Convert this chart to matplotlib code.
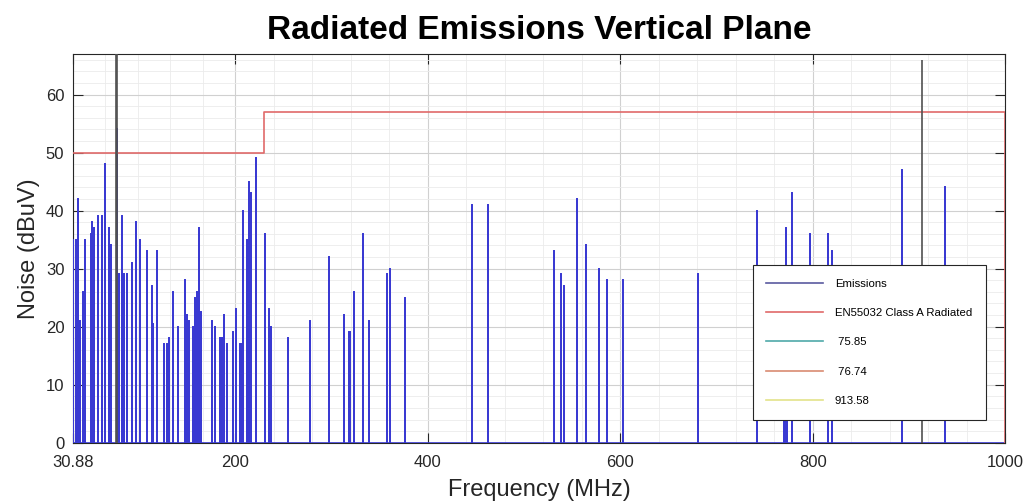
import numpy as np
import matplotlib
matplotlib.use('Agg')
import matplotlib.pyplot as plt
from matplotlib.lines import Line2D
from matplotlib.ticker import FixedLocator, MultipleLocator

plt.rcParams['font.family'] = ['Liberation Sans', 'DejaVu Sans']

# emission peaks (MHz, dBuV)
peak_freq = [31.5, 34.0, 36.1, 38.5, 41.3, 43.7, 49.6, 51.3, 53.0, 56.9,
             61.0, 64.4, 68.9, 70.7, 76.6, 79.0, 81.8, 84.2, 86.9, 92.8,
             96.6, 100.8, 107.8, 113.6, 114.5, 118.8, 125.7, 128.5, 131.0, 135.4,
             139.9, 147.6, 150.0, 152.0, 156.2, 158.0, 159.7, 162.1, 163.9, 175.3,
             178.7, 183.9, 185.7, 188.1, 191.5, 197.1, 200.5, 204.7, 206.0, 207.7,
             212.2, 214.4, 216.1, 221.3, 231.0, 235.2, 236.6, 254.9, 277.8, 297.2,
             313.1, 318.3, 319.5, 323.5, 332.8, 338.7, 357.1, 360.5, 376.1, 446.0,
             461.9, 530.8, 537.8, 541.3, 554.9, 563.9, 577.7, 585.7, 603.0, 680.9,
             742.1, 769.6, 771.9, 773.5, 778.2, 796.9, 815.6, 819.3, 892.2, 937.2]
peak_level = [35, 35, 42, 21, 26, 35, 36, 38, 37, 39,
              39, 48, 37, 34, 54, 29, 39, 29, 29, 31,
              38, 35, 33, 27, 20.5, 33, 17, 17, 18, 26,
              20, 28, 22, 21, 20, 25, 26, 37, 22.5, 21,
              20, 18, 18, 22, 17, 19, 23, 17, 17, 40,
              35, 45, 43, 49, 36, 23, 20, 18, 21, 32,
              22, 19, 19, 26, 36, 21, 29, 30, 25, 41,
              41, 33, 29, 27, 42, 34, 30, 28, 28, 29,
              40, 20, 37, 25, 43, 36, 36, 33, 47, 44]

# EN55032 class A radiated limit
limit_freq = [30.88, 230, 230, 1000, 1000]
limit_level = [50, 50, 57, 57, 0]

# marker lines
marker_freq = [75.85, 76.74, 913.58]
marker_top = [67, 67, 66]
marker_labels = [' 75.85', ' 76.74', '913.58']
marker_colors = ['#4fa9a9', '#d98b72', '#e3e38a']

xticks = [30.88, 200, 400, 600, 800, 1000]
xticklabels = ['30.88', '200', '400', '600', '800', '1000']

# spikes: 0 -> peak -> 0 at each frequency
f = np.asarray(peak_freq)
a = np.asarray(peak_level)
ex = np.concatenate([[30.88], np.repeat(f, 3), [1000]])
ey = np.concatenate([[0], np.column_stack([np.zeros_like(a), a, np.zeros_like(a)]).ravel(), [0]])

fig = plt.figure(figsize=(10.28, 5.04), dpi=100)
ax = fig.add_axes([0.0707, 0.1216, 0.9074, 0.7713])

ax.plot(ex, ey, color='#3a3ad2', lw=1.2, label='Emissions', zorder=3)
ax.plot(limit_freq, limit_level, color='#e06a6a', lw=1.2,
        label='EN55032 Class A Radiated', zorder=4)
ax.vlines(marker_freq, 0, marker_top, color='#505050', lw=1.2, zorder=5)

ax.set_xlim(30.88, 1000)
ax.set_ylim(0, 67)
ax.set_xticks(xticks)
ax.set_xticklabels(xticklabels)
ax.set_yticks(range(0, 61, 10))

minor_x = np.concatenate([np.linspace(xticks[i], xticks[i + 1], 6)[1:-1]
                          for i in range(len(xticks) - 1)])
ax.xaxis.set_minor_locator(FixedLocator(minor_x))
ax.yaxis.set_minor_locator(MultipleLocator(2))

ax.grid(True, which='major', color='#d0d0d0', lw=0.8, zorder=0)
ax.grid(True, which='minor', color='#ebebeb', lw=0.6, zorder=0)
ax.set_axisbelow(True)

ax.tick_params(which='major', direction='in', top=True, right=True,
               length=7, width=0.8, labelsize=12, colors='#262626')
ax.tick_params(axis='x', which='major', pad=9)
ax.tick_params(axis='y', which='major', pad=6)
ax.tick_params(which='minor', length=0)
for s in ax.spines.values():
    s.set_color('#262626')
    s.set_linewidth(0.8)

ax.set_xlabel('Frequency (MHz)', fontsize=17, color='#262626', labelpad=6)
ax.set_ylabel('Noise (dBuV)', fontsize=17, color='#262626', labelpad=4)
ax.set_title('Radiated Emissions Vertical Plane', fontsize=24,
             fontweight='bold', pad=11)

handles = [Line2D([], [], color='#5a5aa0', lw=1.2),
           Line2D([], [], color='#e06a6a', lw=1.2)]
handles += [Line2D([], [], color=c, lw=1.2) for c in marker_colors]
labels = ['Emissions', 'EN55032 Class A Radiated'] + marker_labels
leg = ax.legend(handles, labels, loc='upper left', bbox_to_anchor=(0.729, 0.457),
                borderaxespad=0, fontsize=8.2, frameon=True, fancybox=False,
                framealpha=1, edgecolor='#262626', handlelength=5.0,
                handletextpad=1.0, labelspacing=1.7, borderpad=1.2)
leg.get_frame().set_linewidth(0.8)
leg.set_zorder(10)

fig.savefig('out.png', dpi=100)
